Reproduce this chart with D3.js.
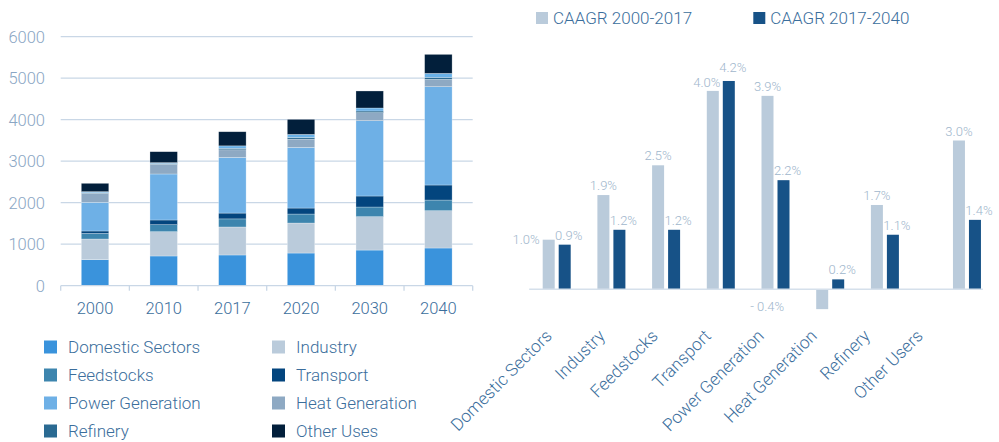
<!DOCTYPE html>
<html>
<head>
<meta charset="utf-8">
<script src="https://cdn.jsdelivr.net/npm/d3@7"></script>
<style>
  body { margin: 0; background: #fff; }
  svg { display: block; font-family: Roboto, "Noto Sans", sans-serif; font-weight: 300; }
</style>
</head>
<body>
<div class="chart"></div>
<script>
// left chart: stacked demand by sector
const years = ['2000', '2010', '2017', '2020', '2030', '2040']
const domestic   = [627, 716, 740, 787, 859, 908]
const industry   = [498, 585, 675, 723, 804, 899]
const feedstocks = [135, 169, 195, 217, 233, 257]
const transport  = [58, 113, 140, 144, 265, 362]
const power      = [691, 1109, 1340, 1460, 1815, 2369]
const heat       = [217, 233, 185, 200, 193, 177]
const refinery   = [15, 20, 35, 40, 41, 48]
const nonSpec    = [25, 20, 60, 75, 72, 96]   // thin light band, not in legend
const otherUses  = [201, 264, 340, 362, 410, 458]
const yTicks = [0, 1000, 2000, 3000, 4000, 5000, 6000]

// right chart: growth rates
const sectors = ['Domestic Sectors', 'Industry', 'Feedstocks', 'Transport',
  'Power Generation', 'Heat Generation', 'Refinery', 'Other Users']
const caagr0017 = [1.0, 1.9, 2.5, 4.0, 3.9, -0.4, 1.7, 3.0]
const caagr1740 = [0.9, 1.2, 1.2, 4.2, 2.2, 0.2, 1.1, 1.4]
const caagrNames = ['CAAGR 2000-2017', 'CAAGR 2017-2040']

const width = 999, height = 442
const textBlue = '#3b6e9c'

const svg = d3.select('.chart').append('svg')
  .attr('width', width).attr('height', height)
  .attr('viewBox', [0, 0, width, height])

// ---------- left stacked bars ----------
const stackKeys = ['Domestic Sectors', 'Industry', 'Feedstocks', 'Transport',
  'Power Generation', 'Heat Generation', 'Refinery', 'Non-specified', 'Other Uses']
const stackVals = [domestic, industry, feedstocks, transport, power, heat, refinery, nonSpec, otherUses]
const stackColors = ['#3a93dc', '#bacbdb', '#3d85ae', '#03457e', '#6eb0e6',
  '#8ea9c3', '#2a6a92', '#6ab2e8', '#021f3b']

const rows = years.map((y, i) => {
  const r = { year: y }
  stackKeys.forEach((k, j) => r[k] = stackVals[j][i])
  return r
})
const series = d3.stack().keys(stackKeys)(rows)

const x = d3.scaleBand().domain(years).range([60.7, 472.7])
  .paddingInner(0.6).paddingOuter(0.3)
const y = d3.scaleLinear().domain([0, 6000]).range([285.7, 36.7])
const color = d3.scaleOrdinal().domain(stackKeys).range(stackColors)

const left = svg.append('g')

left.append('g')
  .selectAll('line')
  .data(yTicks.slice(1))
  .enter().append('line')
    .attr('x1', 60.7).attr('x2', 472.7)
    .attr('y1', d => y(d)).attr('y2', d => y(d))
    .attr('stroke', '#c9d7e6').attr('stroke-width', 1.3)

left.append('g')
  .selectAll('text')
  .data(yTicks)
  .enter().append('text')
    .attr('x', 45).attr('y', d => y(d) + 6)
    .attr('text-anchor', 'end')
    .attr('font-size', 16.5).attr('fill', '#8aa6c4')
    .text(d => d)

left.append('g')
  .selectAll('g')
  .data(series)
  .enter().append('g')
    .attr('fill', d => color(d.key))
  .selectAll('rect')
  .data(d => d)
  .enter().append('rect')
    .attr('x', d => x(d.data.year))
    .attr('width', x.bandwidth())
    .attr('y', d => y(d[1]))
    .attr('height', d => y(d[0]) - y(d[1]))
    .attr('stroke', '#fff').attr('stroke-width', 0.6).attr('stroke-opacity', 0.45)

// x axis
const xAxis = left.append('g').attr('transform', `translate(0,${y(0)})`)
xAxis.append('line')
  .attr('x1', 60.7).attr('x2', 472.7)
  .attr('stroke', '#c9d7e6').attr('stroke-width', 1.3)
xAxis.selectAll('line.tick')
  .data(d3.range(years.length + 1))
  .enter().append('line').attr('class', 'tick')
    .attr('x1', i => 60.7 + i * x.step()).attr('x2', i => 60.7 + i * x.step())
    .attr('y1', 0).attr('y2', 5)
    .attr('stroke', '#c9d7e6').attr('stroke-width', 1.3)
xAxis.selectAll('text')
  .data(years)
  .enter().append('text')
    .attr('x', d => x(d) + x.bandwidth() / 2)
    .attr('y', 28)
    .attr('text-anchor', 'middle')
    .attr('font-size', 16.5).attr('fill', textBlue)
    .text(d => d)

// legend
const legendKeys = ['Domestic Sectors', 'Industry', 'Feedstocks', 'Transport',
  'Power Generation', 'Heat Generation', 'Refinery', 'Other Uses']
const leg = left.append('g')
  .selectAll('g')
  .data(legendKeys)
  .enter().append('g')
    .attr('transform', (d, i) => `translate(${i % 2 ? 272 : 44},${347 + Math.floor(i / 2) * 28})`)
leg.append('rect')
  .attr('x', 0).attr('y', -6.5).attr('width', 13).attr('height', 13)
  .attr('fill', d => color(d))
leg.append('text')
  .attr('x', 24).attr('y', 6)
  .attr('font-size', 17).attr('fill', textBlue)
  .text(d => d)

// ---------- right grouped bars ----------
const caagrRows = sectors.map((s, i) => ({ sector: s, a: caagr0017[i], b: caagr1740[i] }))
const x0 = d3.scaleBand().domain(sectors).range([529.2, 529.2 + 8 * 54.7])
// the last group sits half a step further right in the original
const gx = s => x0(s) + (s === 'Other Users' ? x0.step() / 2 : 0)
const x1 = d3.scaleBand().domain(['a', 'b']).range([13.5, 41.5]).paddingInner(0.25)
const yr = d3.scaleLinear().domain([0, 1]).range([289.3, 239.7])
const cColor = d3.scaleOrdinal().domain(['a', 'b']).range(['#bacbdb', '#175287'])
const fmt = v => (v < 0 ? '- ' + Math.abs(v).toFixed(1) : v.toFixed(1)) + '%'

const right = svg.append('g')

const groups = right.append('g')
  .selectAll('g')
  .data(caagrRows)
  .enter().append('g')
    .attr('transform', d => `translate(${gx(d.sector)},0)`)

const cells = groups.selectAll('g')
  .data(d => ['a', 'b'].map(k => ({ sector: d.sector, key: k, value: d[k] })))
  .enter().append('g')

cells.append('rect')
  .attr('x', d => x1(d.key))
  .attr('width', x1.bandwidth())
  .attr('y', d => yr(Math.max(0, d.value)))
  .attr('height', d => Math.abs(yr(d.value) - yr(0)))
  .attr('fill', d => cColor(d.key))

// value labels, a few nudged like the original
const nudge = {
  'Domestic Sectors|a': { anchor: 'end', dx: -3 - x1.bandwidth() / 2, dy: 9.5 },
  'Transport|a': { dx: -6, dy: 1 },
  'Transport|b': { dx: 4, dy: -4 },
  'Heat Generation|a': { anchor: 'end', dx: -32 - x1.bandwidth() / 2, dy: 2 }
}
cells.append('text')
  .attr('text-anchor', d => (nudge[d.sector + '|' + d.key] || {}).anchor || 'middle')
  .attr('x', d => {
    const n = nudge[d.sector + '|' + d.key] || {}
    return x1(d.key) + x1.bandwidth() / 2 + (n.dx !== undefined ? n.dx : (d.key === 'b' ? 4 : 0))
  })
  .attr('y', d => {
    const n = nudge[d.sector + '|' + d.key] || {}
    const base = d.value < 0 ? yr(d.value) : yr(d.value) - 5
    return base + (n.dy || 0)
  })
  .attr('font-size', 13).attr('fill', '#a0b6cc')
  .text(d => fmt(d.value))

right.append('line')
  .attr('x1', 529.2).attr('x2', 982.8)
  .attr('y1', yr(0)).attr('y2', yr(0))
  .attr('stroke', '#d5e0eb').attr('stroke-width', 1.5)

// rotated category labels
const xl = d3.scalePoint().domain(sectors).range([553, 924])
right.append('g')
  .selectAll('text')
  .data(sectors)
  .enter().append('text')
    .attr('transform', d => `translate(${xl(d)},337) rotate(-45)`)
    .attr('text-anchor', 'end')
    .attr('font-size', 17.3).attr('fill', textBlue)
    .text(d => d)

// legend on top
const rleg = right.append('g')
  .selectAll('g')
  .data(['a', 'b'])
  .enter().append('g')
    .attr('transform', (d, i) => `translate(${i ? 753.3 : 536},18)`)
rleg.append('rect')
  .attr('x', 0).attr('y', -6).attr('width', 12).attr('height', 12)
  .attr('fill', d => cColor(d))
rleg.append('text')
  .attr('x', 17).attr('y', 6)
  .attr('font-size', 17).attr('fill', textBlue)
  .text((d, i) => caagrNames[i])
</script>
</body>
</html>
